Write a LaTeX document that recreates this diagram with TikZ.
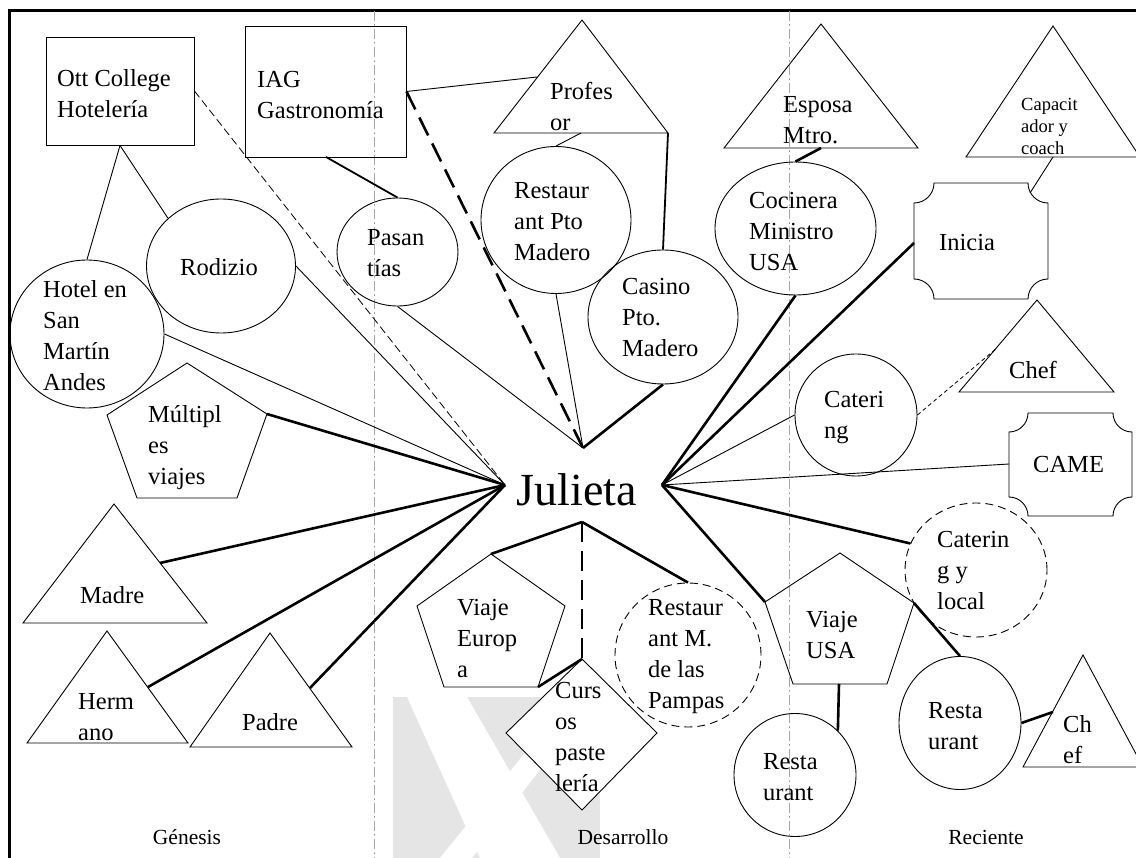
\documentclass[tikz,border=0pt]{standalone}
\usepackage{fontspec}
\setmainfont{Liberation Serif}
\usetikzlibrary{shapes.geometric}
\begin{document}
\begin{tikzpicture}[x=1pt,y=-1pt,
  outl/.style={draw=black, line width=0.9pt},
  ell/.style={ellipse, outl, inner sep=0pt},
  dell/.style={ellipse, draw=black, line width=0.9pt, dash pattern=on 8pt off 5pt, inner sep=0pt},
  box/.style={rectangle, outl, inner sep=0pt},
  lbl/.style={inner sep=0pt, align=left, anchor=west, font=\fontsize{24.5}{31}\selectfont},
  small/.style={inner sep=0pt, align=left, anchor=west, font=\fontsize{18.5}{22}\selectfont},
  era/.style={inner sep=0pt, font=\fontsize{21.5}{24}\selectfont},
  link/.style={draw=black, line width=0.9pt},
  linkdash/.style={draw=black, line width=0.8pt, dash pattern=on 8pt off 4pt},
  linkdot/.style={draw=black, line width=0.8pt, dash pattern=on 4pt off 3pt},
  linkmid/.style={draw=black, line width=1.8pt},
  linkthick/.style={draw=black, line width=2.6pt},
  linkthickdash/.style={draw=black, line width=2.6pt, dash pattern=on 20pt off 9pt},
  divider/.style={draw=black!35, line width=1pt, dash pattern=on 10pt off 3pt on 2pt off 3pt},
  frame/.style={draw=black, line width=3pt},
  emblem/.style={fill=black!10, draw=none}
]
\useasboundingbox (0,0) rectangle (1136,858);
\fill[white] (0,0) rectangle (1136,858);

% faint background emblem: white cross on a grey field
\fill[emblem] (393,697) rectangle (600,858);
\fill[white] (407,697) -- (467,697) -- (560,858) -- (480,858) -- cycle;
\fill[white] (570,697) -- (596,697) -- (472,858) -- (440,858) -- cycle;

% frame and period dividers
\draw[frame] (1136,11) -- (9,11) -- (9,858);
\draw[divider] (374,11) -- (374,858);
\draw[divider] (789,11) -- (789,858);

% ---------- Génesis ----------
\node[box, minimum width=148pt, minimum height=108pt] (ott) at (120,91) {};
\node[lbl] (ott-t) at (57,94) {Ott College\\Hotelería};
\node[box, minimum width=161pt, minimum height=131pt] (iag) at (325.5,91.5) {};
\node[lbl] (iag-t) at (257,95) {IAG\\Gastronomía};
\coordinate (iag-b) at (326,157);
\node[ell, minimum width=149pt, minimum height=134pt] (rod) at (221,266) {};
\node[lbl] (rod-t) at (180,267) {Rodizio};
\node[ell, minimum width=154pt, minimum height=148pt] (hotel) at (87,334) {};
\node[lbl] (hotel-t) at (43,335.5) {Hotel en\\San\\Martín\\Andes};
\node[ell, minimum width=121pt, minimum height=108pt] (pas) at (397.5,252) {};
\node[lbl] (pas-t) at (367,253) {Pasan\\tías};

\draw[outl] (187,363) -- (267,414) -- (237,498) -- (137,498) -- (107,415) -- cycle;
\coordinate (mul-r) at (267,414);
\node[lbl] (mul-t) at (148,447.5) {Múltipl\\es\\viajes};

\draw[outl] (114,504) -- (207,623) -- (23,623) -- cycle;
\coordinate (mad-s) at (160,563);
\node[lbl] (mad-t) at (80,595) {Madre};
\draw[outl] (107,631) -- (188,743) -- (27,743) -- cycle;
\coordinate (her-s) at (148,687);
\node[lbl] (her-t) at (78,717.5) {Herm\\ano};
\draw[outl] (270,633) -- (352,747) -- (190,747) -- cycle;
\coordinate (pad-s) at (310,688);
\node[lbl] (pad-t) at (242,722) {Padre};

% ---------- Desarrollo ----------
\draw[outl] (582,20) -- (668,133) -- (494,133) -- cycle;
\coordinate (prof-l) at (537,77);
\coordinate (prof-b) at (581,133);
\coordinate (prof-r) at (668,133);
\node[lbl] (prof-t) at (550,106) {Profes\\or};
\node[ell, minimum width=150pt, minimum height=147pt] (rpm) at (556,220) {};
\node[lbl] (rpm-t) at (514,222) {Restaur\\ant Pto\\Madero};
\node[ell, minimum width=150pt, minimum height=134pt] (cas) at (663,317) {};
\node[lbl] (cas-t) at (622,318) {Casino\\Pto.\\Madero};

\node[inner sep=0pt, font=\fontsize{46}{46}\selectfont] (jul) at (577,490) {Julieta};
\coordinate (jt) at (583,448);
\coordinate (jl) at (505,485);
\coordinate (jr) at (662,485);
\coordinate (jb) at (582,522);

\draw[outl] (491,554) -- (565,606) -- (538,687) -- (444,687) -- (417,606) -- cycle;
\coordinate (veu-t) at (491,554);
\coordinate (veu-br) at (538,687);
\node[lbl] (veu-txt) at (457,639) {Viaje\\Europ\\a};
\draw[outl, fill=white] (582,659) -- (657,733) -- (582,810) -- (506,733) -- cycle;
\coordinate (cur-t) at (582,659);
\node[lbl] (cur-txt) at (555,737) {Curs\\os\\paste\\lería};
\node[dell, minimum width=146pt, minimum height=144pt] (rm) at (688,655) {};
\node[lbl] (rm-t) at (648,656.5) {Restaur\\ant M.\\de las\\Pampas};

% ---------- Reciente ----------
\draw[outl] (821,24) -- (918,148) -- (724,148) -- cycle;
\coordinate (esp-b) at (821,148);
\node[lbl] (esp-t) at (783,120) {Esposa\\Mtro.};
\node[ell, minimum width=161pt, minimum height=133pt] (coc) at (795.5,228.5) {};
\node[lbl] (coc-t) at (749,231.5) {Cocinera\\Ministro\\USA};
\draw[outl] (1053,26) -- (1140,157) -- (966,157) -- cycle;
\coordinate (cap-b) at (1053,157);
\node[small] (cap-t) at (1021,126) {Capacit\\ador y\\coach};

% plaque shaped boxes (concave corners)
\draw[outl] (934,183) -- (1028,183) arc[start angle=180, end angle=270, radius=20pt]
  -- (1048,279) arc[start angle=90, end angle=180, radius=20pt]
  -- (934,299) arc[start angle=0, end angle=90, radius=20pt]
  -- (914,203) arc[start angle=270, end angle=360, radius=20pt] -- cycle;
\coordinate (ini-l) at (914,243);
\coordinate (ini-c) at (1030,193);
\node[lbl] (ini-t) at (939,243) {Inicia};

\node[ell, minimum width=122pt, minimum height=122pt] (cat) at (856,415) {};
\node[lbl] (cat-t) at (824,418) {Cateri\\ng};
\draw[outl] (1037,300) -- (1114,392) -- (959,392) -- cycle;
\coordinate (chef-s) at (997,348);
\node[lbl] (chef-t) at (1009,370) {Chef};

\draw[outl] (1028,413) -- (1113,413) arc[start angle=180, end angle=270, radius=19pt]
  -- (1132,497) arc[start angle=90, end angle=180, radius=19pt]
  -- (1028,516) arc[start angle=0, end angle=90, radius=19pt]
  -- (1009,432) arc[start angle=270, end angle=360, radius=19pt] -- cycle;
\coordinate (came-l) at (1009,464);
\node[lbl] (came-t) at (1033,465) {CAME};

\node[dell, minimum width=142pt, minimum height=134pt] (cyl) at (976,570) {};
\node[lbl] (cyl-t) at (937,571) {Caterin\\g y\\local};

\draw[outl] (840,553) -- (914,603) -- (887,684) -- (793,684) -- (765,602) -- cycle;
\coordinate (vusa-l) at (765,602);
\coordinate (vusa-r) at (914,603);
\coordinate (vusa-b) at (839,684);
\node[lbl] (vusa-t) at (806,635) {Viaje\\USA};

\node[ell, minimum width=122pt, minimum height=133pt] (rr) at (960,723) {};
\node[lbl] (rr-t) at (928,726) {Resta\\urant};
\node[ell, minimum width=122pt, minimum height=123pt] (rl) at (795,775) {};
\node[lbl] (rl-t) at (763,777.5) {Resta\\urant};
\draw[outl] (1083,655) -- (1143,767) -- (1023,767) -- cycle;
\coordinate (chs-s) at (1053,712);
\node[lbl] (chs-t) at (1063,740) {Ch\\ef};

% period labels
\node[era] (g1) at (187,837) {Génesis};
\node[era] (g2) at (623,837) {Desarrollo};
\node[era] (g3) at (986,837) {Reciente};

% ---------- connectors ----------
\draw[link] (ott.south) -- (hotel.north);
\draw[link] (ott.south) -- (rod.138);
\draw[linkdash] (ott.east) -- (jl);
\draw[link] (rod.east) -- (jl);
\draw[link] (hotel.east) -- (jl);
\draw[linkthick] (mul-r) -- (jl);
\draw[linkthick] (mad-s) -- (jl);
\draw[linkthick] (her-s) -- (jl);
\draw[linkthick] (pad-s) -- (jl);

\draw[link] (iag.east) -- (prof-l);
\draw[linkmid] (iag-b) -- (pas.north);
\draw[link] (pas.south) -- (jt);
\draw[linkthickdash] (iag.east) -- (jt);
\draw[link] (prof-b) -- (rpm.north);
\draw[link] (rpm.south) -- (jt);
\draw[linkmid] (prof-r) -- (cas.north);
\draw[linkthick] (cas.south) -- (jt);

\draw[linkthick] (jb) -- (veu-t);
\draw[linkthickdash] (jb) -- (cur-t);
\draw[linkthick] (cur-t) -- (veu-br);
\draw[linkthick] (jb) -- (rm.north);

\draw[linkthick] (esp-b) -- (coc.north);
\draw[linkthick] (coc.south) -- (jr);
\draw[linkthick] (ini-l) -- (jr);
\draw[link] (cap-b) -- (ini-c);
\draw[link] (cat.west) -- (jr);
\draw[linkdot] (cat.east) -- (chef-s);
\draw[link] (came-l) -- (jr);
\draw[linkthick] (cyl.158) -- (jr);
\draw[linkthick] (vusa-l) -- (jr);
\draw[linkthick] (vusa-r) -- (rr.north);
\draw[linkthick] (vusa-b) -- (rl.46);
\draw[linkthick] (rr.east) -- (chs-s);
\end{tikzpicture}
\end{document}
